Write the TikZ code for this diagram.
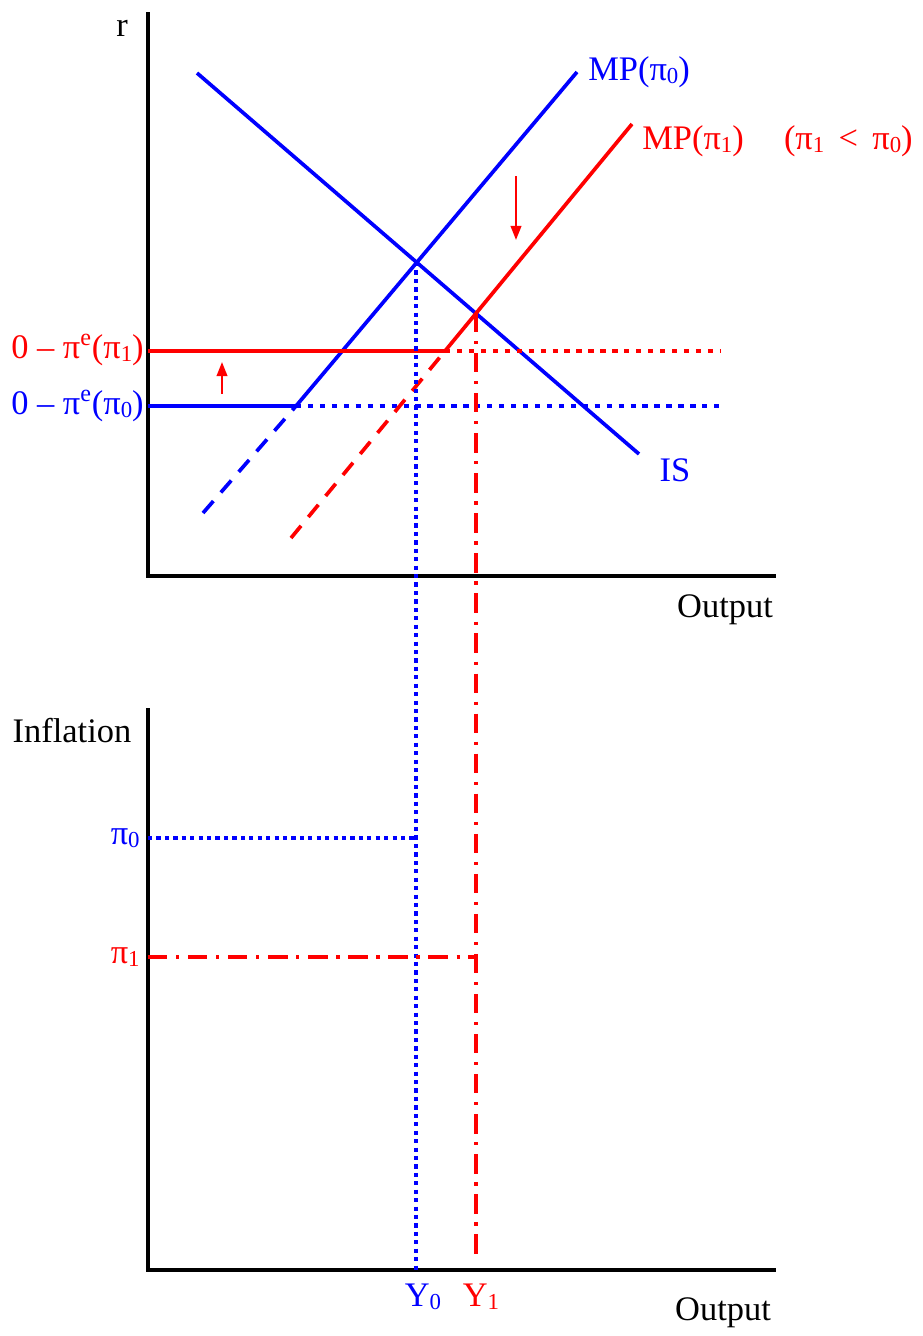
\documentclass[tikz,border=0pt]{standalone}
\usepackage{fontspec}
\setmainfont{Liberation Serif}
\usepackage{xcolor}
\usetikzlibrary{arrows.meta, positioning, calc}

\newcommand{\sbs}[1]{\raisebox{-0.2ex}{\fontsize{13}{13}\selectfont #1}}

\tikzset{
  axis/.style={line width=1.8pt, black},
  curve/.style={line width=2.1pt},
  dotline/.style={line width=2.6pt, dash pattern=on 3pt off 3.8pt},
  fineDot/.style={line width=1.9pt, dash pattern=on 2.4pt off 2.4pt},
  dashline/.style={line width=2.1pt, dash pattern=on 9pt off 6.5pt},
  dashdotline/.style={line width=2.1pt, dash pattern=on 11pt off 5pt on 1.8pt off 5pt},
  shift arrow/.style={red, line width=1.2pt, -{Triangle[length=8pt, width=6pt]}},
  lbl/.style={inner sep=0pt, font=\fontsize{19.6}{23}\selectfont}
}

\begin{document}
\begin{tikzpicture}[x=0.02cm, y=-0.02cm]
  \useasboundingbox (0,0) rectangle (923,1336);

  % axes
  \coordinate (O1) at (148,576);
  \coordinate (O2) at (148,1270);
  \draw[axis] (148,12) -- (O1) -- (776,576);
  \draw[axis] (148,708) -- (O2) -- (776,1270);

  \node[lbl] (r) at (122,28) {r};
  \node[lbl] (out1) at (725,610) {Output};
  \node[lbl] (infl) at (72,731) {Inflation};
  \node[lbl] (out2) at (723,1313) {Output};

  % points
  \coordinate (E0) at (416,262);
  \coordinate (E1) at (476,313);
  \coordinate (K0) at (296,406);
  \coordinate (K1) at (445,351);

  % IS curve
  \draw[curve, blue] (197,73) -- (639,454);
  \node[lbl, blue] (IS) at (675,470) {IS};

  % MP(pi0)
  \draw[curve, blue] (148,406) -- (K0) -- (577,72);
  \draw[dashline, blue] (203,513) -- (K0);
  \draw[dotline, blue] (K0) -- (722,406);
  \node[lbl, blue, anchor=west] (MP0) at (588,72) {MP(π\sbs{0})};

  % MP(pi1)
  \draw[curve, red] (148,351) -- (K1) -- (632,124);
  \draw[dashline, red] (291,538) -- (K1);
  \draw[dotline, red] (K1) -- (720,351);
  \node[lbl, red, anchor=west] (MP1) at (642,141) {MP(π\sbs{1})\quad\,(π\sbs{1} \,<\, π\sbs{0})};

  % real rate labels
  \node[lbl, red, anchor=east] (rr1) at (144,350) {0 – π\textsuperscript{e}(π\sbs{1})};
  \node[lbl, blue, anchor=east] (rr0) at (144,406) {0 – π\textsuperscript{e}(π\sbs{0})};

  % shift arrows
  \draw[shift arrow] (516,176) -- (516,240);
  \draw[shift arrow] (222,394) -- (222,362);

  % projections
  \coordinate (Y0) at (416,1270);
  \coordinate (Y1) at (476,1258);
  \coordinate (P0) at (416,838);
  \coordinate (P1) at (476,957);
  \draw[fineDot, blue] (E0) -- (Y0);
  \draw[dashdotline, red] (E1) -- (Y1);
  \draw[fineDot, blue] (148,838) -- (P0);
  \draw[dashdotline, red] (148,957) -- (P1);

  \node[lbl, blue, anchor=east] (pi0) at (140,838) {π\sbs{0}};
  \node[lbl, red, anchor=east] (pi1) at (140,957) {π\sbs{1}};
  \node[lbl, blue] (y0) at (423,1297) {Y\sbs{0}};
  \node[lbl, red] (y1) at (481,1297) {Y\sbs{1}};
\end{tikzpicture}
\end{document}
